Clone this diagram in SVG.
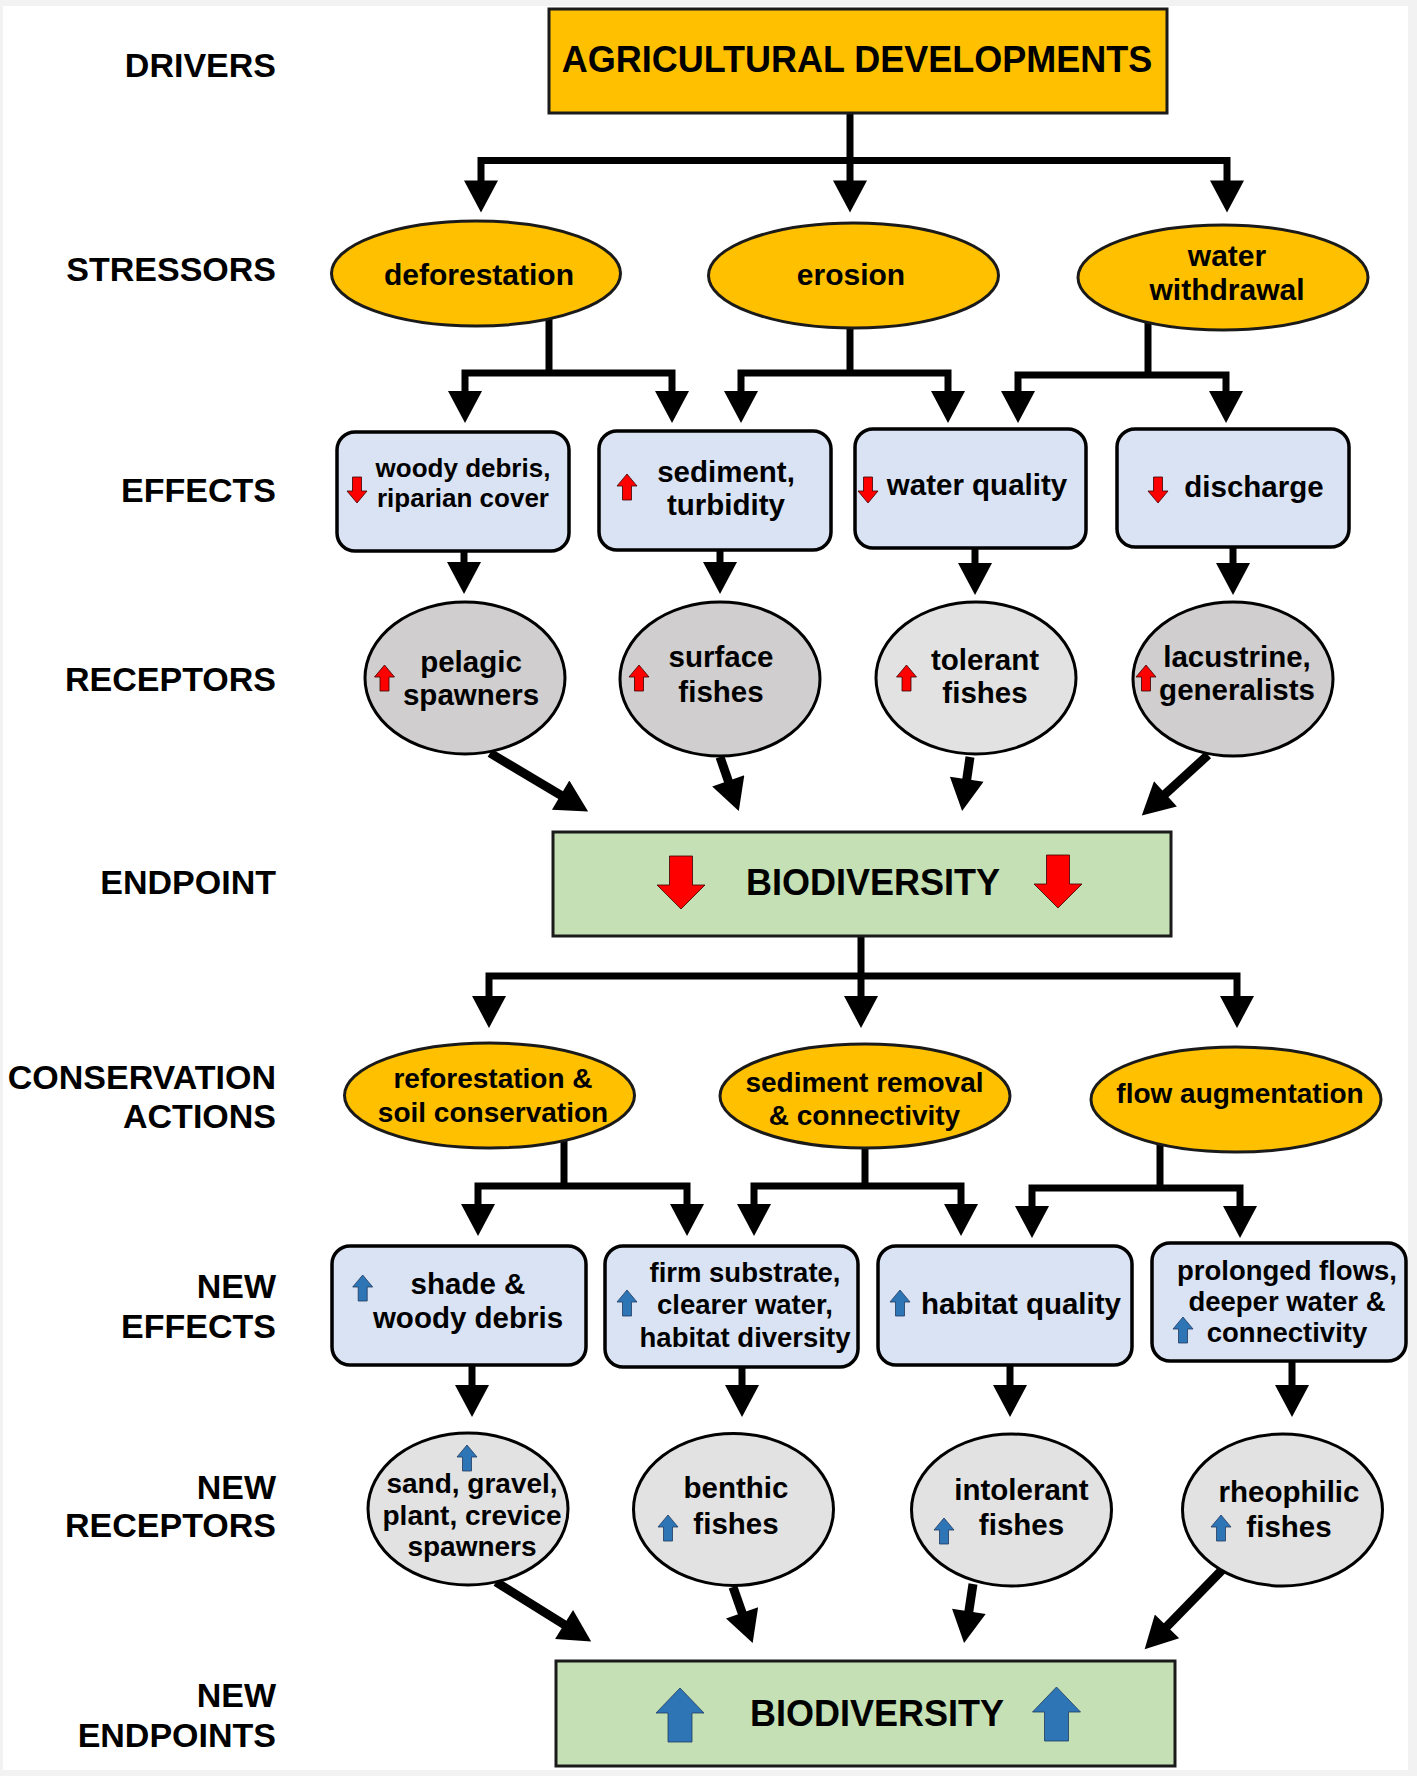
<svg xmlns="http://www.w3.org/2000/svg" xmlns:xlink="http://www.w3.org/1999/xlink" width="1417" height="1776" viewBox="0 0 1417 1776">
<style>
text{font-family:"Liberation Sans",Arial,sans-serif;font-weight:bold;fill:#000}
.lbl{font-size:34px;text-anchor:end}
.c{text-anchor:middle}
.f36{font-size:36px}.f30{font-size:30px}.f29{font-size:29.5px}.f28{font-size:28px}.f27{font-size:27.5px}.f26{font-size:26px}
.orange{fill:#FFC000;stroke:#1a1a1a;stroke-width:3}
.eff{fill:#DAE3F3;stroke:#000;stroke-width:3.5}
.gray{fill:#D0CECE;stroke:#000;stroke-width:3}
.lgray{fill:#E2E2E2;stroke:#000;stroke-width:3}
.green{fill:#C5E0B4;stroke:#1a1a1a;stroke-width:3}
.con{fill:none;stroke:#000;stroke-width:7;stroke-linejoin:miter}
.dia{fill:none;stroke:#000;stroke-width:9}
.red{fill:#FF0000;stroke:#3a0000;stroke-width:0.8}
.blue{fill:#2E75B6;stroke:#1F3A5F;stroke-width:0.8}
</style>
<defs>
<marker id="ah" markerUnits="userSpaceOnUse" markerWidth="34" markerHeight="34" refX="1" refY="17" orient="auto-start-reverse" viewBox="0 0 32 34"><path d="M0,0 L32,17 L0,34 Z" fill="#000"/></marker>
<path id="sup" d="M0,0 L10,12 L4.5,12 L4.5,26 L-4.5,26 L-4.5,12 L-10,12 Z"/>
<path id="sdn" d="M-4.5,0 L4.5,0 L4.5,14 L10,14 L0,26 L-10,14 L-4.5,14 Z"/>
<path id="bup" d="M0,0 L24,25 L12,25 L12,54 L-12,54 L-12,25 L-24,25 Z"/>
<path id="bdn" d="M-11.5,0 L11.5,0 L11.5,29 L24,29 L0,53 L-24,29 L-11.5,29 Z"/>
</defs>
<rect x="0" y="0" width="1417" height="1776" fill="#F2F2F2"/>
<rect x="3" y="6" width="1405" height="1764" fill="#FFFFFF"/>

<g id="labels">
<text class="lbl" x="276" y="77">DRIVERS</text>
<text class="lbl" x="276" y="281">STRESSORS</text>
<text class="lbl" x="276" y="502">EFFECTS</text>
<text class="lbl" x="276" y="691">RECEPTORS</text>
<text class="lbl" x="276" y="894">ENDPOINT</text>
<text class="lbl" x="276" y="1089">CONSERVATION</text>
<text class="lbl" x="276" y="1128">ACTIONS</text>
<text class="lbl" x="276" y="1298">NEW</text>
<text class="lbl" x="276" y="1338">EFFECTS</text>
<text class="lbl" x="276" y="1499">NEW</text>
<text class="lbl" x="276" y="1537">RECEPTORS</text>
<text class="lbl" x="276" y="1707">NEW</text>
<text class="lbl" x="276" y="1747">ENDPOINTS</text>
</g>

<g id="connectors">
<path class="con" d="M850,113 V181.5" marker-end="url(#ah)"/>
<path class="con" d="M481,181.5 V160.5 H1227 V181.5" marker-start="url(#ah)" marker-end="url(#ah)"/>
<path class="con" d="M549,318 V373"/>
<path class="con" d="M465,392 V373 H672 V392" marker-start="url(#ah)" marker-end="url(#ah)"/>
<path class="con" d="M850,328 V373"/>
<path class="con" d="M741,392 V373 H948 V392" marker-start="url(#ah)" marker-end="url(#ah)"/>
<path class="con" d="M1148,322 V375"/>
<path class="con" d="M1018,392 V375 H1226 V392" marker-start="url(#ah)" marker-end="url(#ah)"/>
<path class="con" d="M464,551 V563" marker-end="url(#ah)"/>
<path class="con" d="M720,550 V563" marker-end="url(#ah)"/>
<path class="con" d="M975,548 V564" marker-end="url(#ah)"/>
<path class="con" d="M1233,547 V564" marker-end="url(#ah)"/>
<path class="dia" d="M490,753 L561.5,795.6" marker-end="url(#ah)"/>
<path class="dia" d="M720,757 L728.6,781.8" marker-end="url(#ah)"/>
<path class="dia" d="M970,757 L966.6,780.3" marker-end="url(#ah)"/>
<path class="dia" d="M1208,755 L1164.7,794.5" marker-end="url(#ah)"/>
<path class="con" d="M861,936 V997" marker-end="url(#ah)"/>
<path class="con" d="M489,997 V976 H1237 V997" marker-start="url(#ah)" marker-end="url(#ah)"/>
<path class="con" d="M564,1140 V1186"/>
<path class="con" d="M478,1205 V1186 H687 V1205" marker-start="url(#ah)" marker-end="url(#ah)"/>
<path class="con" d="M865,1148 V1186"/>
<path class="con" d="M754,1205 V1186 H961 V1205" marker-start="url(#ah)" marker-end="url(#ah)"/>
<path class="con" d="M1160,1144 V1188"/>
<path class="con" d="M1032,1207 V1188 H1240 V1207" marker-start="url(#ah)" marker-end="url(#ah)"/>
<path class="con" d="M472,1365 V1386" marker-end="url(#ah)"/>
<path class="con" d="M742,1367 V1386" marker-end="url(#ah)"/>
<path class="con" d="M1010,1365 V1386" marker-end="url(#ah)"/>
<path class="con" d="M1292,1361 V1386" marker-end="url(#ah)"/>
<path class="dia" d="M496,1582 L564.9,1625" marker-end="url(#ah)"/>
<path class="dia" d="M733,1587 L742.4,1613.8" marker-end="url(#ah)"/>
<path class="dia" d="M973,1584 L968.7,1612.4" marker-end="url(#ah)"/>
<path class="dia" d="M1222,1570 L1166.3,1627.1" marker-end="url(#ah)"/>
</g>

<g id="drivers">
<rect class="orange" x="549" y="9" width="618" height="104"/>
<text class="c f36" x="857" y="71.5">AGRICULTURAL DEVELOPMENTS</text>
</g>

<g id="stressor-deforestation">
<ellipse class="orange" cx="476" cy="273.5" rx="144.5" ry="52.5"/>
<text class="c f30" x="479" y="285">deforestation</text>
</g>
<g id="stressor-erosion">
<ellipse class="orange" cx="853.5" cy="275.5" rx="145" ry="52.5"/>
<text class="c f30" x="851" y="285">erosion</text>
</g>
<g id="stressor-water-withdrawal">
<ellipse class="orange" cx="1223" cy="277.5" rx="145" ry="52.5"/>
<text class="c f30" x="1227" y="266">water</text>
<text class="c f30" x="1227" y="300">withdrawal</text>
</g>

<g id="effect-woody">
<rect class="eff" x="337" y="432" width="232" height="119" rx="18"/>
<use xlink:href="#sdn" class="red" x="357" y="477"/>
<text class="c f26" x="463" y="477">woody debris,</text>
<text class="c f26" x="463" y="507">riparian cover</text>
</g>
<g id="effect-sediment">
<rect class="eff" x="599" y="431" width="232" height="119" rx="18"/>
<use xlink:href="#sup" class="red" x="627" y="474"/>
<text class="c f29" x="726" y="482">sediment,</text>
<text class="c f29" x="726" y="515">turbidity</text>
</g>
<g id="effect-water-quality">
<rect class="eff" x="855" y="429" width="231" height="119" rx="18"/>
<use xlink:href="#sdn" class="red" x="868" y="477"/>
<text class="c f29" x="977" y="495">water quality</text>
</g>
<g id="effect-discharge">
<rect class="eff" x="1117" y="429" width="232" height="118" rx="18"/>
<use xlink:href="#sdn" class="red" x="1158" y="477"/>
<text class="c f29" x="1254" y="497">discharge</text>
</g>

<g id="receptor-pelagic">
<ellipse class="gray" cx="465" cy="678" rx="100" ry="76"/>
<use xlink:href="#sup" class="red" x="384.5" y="665"/>
<text class="c f29" x="471" y="672">pelagic</text>
<text class="c f29" x="471" y="705">spawners</text>
</g>
<g id="receptor-surface">
<ellipse class="gray" cx="720" cy="679" rx="100" ry="77"/>
<use xlink:href="#sup" class="red" x="639" y="665"/>
<text class="c f29" x="721" y="667">surface</text>
<text class="c f29" x="721" y="702">fishes</text>
</g>
<g id="receptor-tolerant">
<ellipse class="lgray" cx="976" cy="678" rx="100" ry="76"/>
<use xlink:href="#sup" class="red" x="906.5" y="665"/>
<text class="c f29" x="985" y="670">tolerant</text>
<text class="c f29" x="985" y="703">fishes</text>
</g>
<g id="receptor-lacustrine">
<ellipse class="gray" cx="1233" cy="679" rx="100" ry="77"/>
<use xlink:href="#sup" class="red" x="1146" y="665"/>
<text class="c f29" x="1237" y="667">lacustrine,</text>
<text class="c f29" x="1237" y="700">generalists</text>
</g>

<g id="endpoint">
<rect class="green" x="553" y="832" width="618" height="104"/>
<use xlink:href="#bdn" class="red" x="681" y="856"/>
<use xlink:href="#bdn" class="red" x="1058" y="855"/>
<text class="c f36" x="873" y="895">BIODIVERSITY</text>
</g>

<g id="action-reforestation">
<ellipse class="orange" cx="489.5" cy="1095.5" rx="145" ry="52.5"/>
<text class="c f28" x="493" y="1088">reforestation &amp;</text>
<text class="c f28" x="493" y="1122">soil conservation</text>
</g>
<g id="action-sediment-removal">
<ellipse class="orange" cx="865" cy="1096" rx="145" ry="52"/>
<text class="c f28" x="864.5" y="1092">sediment removal</text>
<text class="c f28" x="864.5" y="1125">&amp; connectivity</text>
</g>
<g id="action-flow">
<ellipse class="orange" cx="1236" cy="1099.5" rx="145" ry="52.5"/>
<text class="c f28" x="1240" y="1103">flow augmentation</text>
</g>

<g id="neweffect-shade">
<rect class="eff" x="332" y="1246" width="254" height="119" rx="18"/>
<use xlink:href="#sup" class="blue" x="362.7" y="1275"/>
<text class="c f29" x="468" y="1294">shade &amp;</text>
<text class="c f29" x="468" y="1328">woody debris</text>
</g>
<g id="neweffect-substrate">
<rect class="eff" x="605" y="1246" width="253" height="121" rx="18"/>
<use xlink:href="#sup" class="blue" x="627" y="1290"/>
<text class="c f27" x="745" y="1282">firm substrate,</text>
<text class="c f27" x="745" y="1314">clearer water,</text>
<text class="c f27" x="745" y="1347">habitat diversity</text>
</g>
<g id="neweffect-habitat">
<rect class="eff" x="878" y="1246" width="254" height="119" rx="18"/>
<use xlink:href="#sup" class="blue" x="900" y="1290"/>
<text class="c f29" x="1021" y="1314">habitat quality</text>
</g>
<g id="neweffect-flows">
<rect class="eff" x="1152" y="1243" width="254" height="118" rx="18"/>
<use xlink:href="#sup" class="blue" x="1183" y="1317"/>
<text class="c f27" x="1287" y="1280">prolonged flows,</text>
<text class="c f27" x="1287" y="1311">deeper water &amp;</text>
<text class="c f27" x="1287" y="1342">connectivity</text>
</g>

<g id="newreceptor-sand">
<ellipse class="lgray" cx="468" cy="1509" rx="100" ry="76"/>
<use xlink:href="#sup" class="blue" x="467" y="1445"/>
<text class="c f28" x="472" y="1493">sand, gravel,</text>
<text class="c f28" x="472" y="1525">plant, crevice</text>
<text class="c f28" x="472" y="1556">spawners</text>
</g>
<g id="newreceptor-benthic">
<ellipse class="lgray" cx="733.5" cy="1509.5" rx="100" ry="76"/>
<use xlink:href="#sup" class="blue" x="668" y="1515"/>
<text class="c f29" x="736" y="1498">benthic</text>
<text class="c f29" x="736" y="1534">fishes</text>
</g>
<g id="newreceptor-intolerant">
<ellipse class="lgray" cx="1011.5" cy="1510" rx="100" ry="76"/>
<use xlink:href="#sup" class="blue" x="944" y="1518"/>
<text class="c f29" x="1021.5" y="1500">intolerant</text>
<text class="c f29" x="1021.5" y="1535">fishes</text>
</g>
<g id="newreceptor-rheophilic">
<ellipse class="lgray" cx="1282.5" cy="1510" rx="100" ry="76"/>
<use xlink:href="#sup" class="blue" x="1221" y="1515"/>
<text class="c f29" x="1289" y="1501.5">rheophilic</text>
<text class="c f29" x="1289" y="1537">fishes</text>
</g>

<g id="newendpoint">
<rect class="green" x="556" y="1661" width="619" height="105"/>
<use xlink:href="#bup" class="blue" x="680" y="1688"/>
<use xlink:href="#bup" class="blue" x="1056.5" y="1687"/>
<text class="c f36" x="877" y="1726">BIODIVERSITY</text>
</g>
</svg>
